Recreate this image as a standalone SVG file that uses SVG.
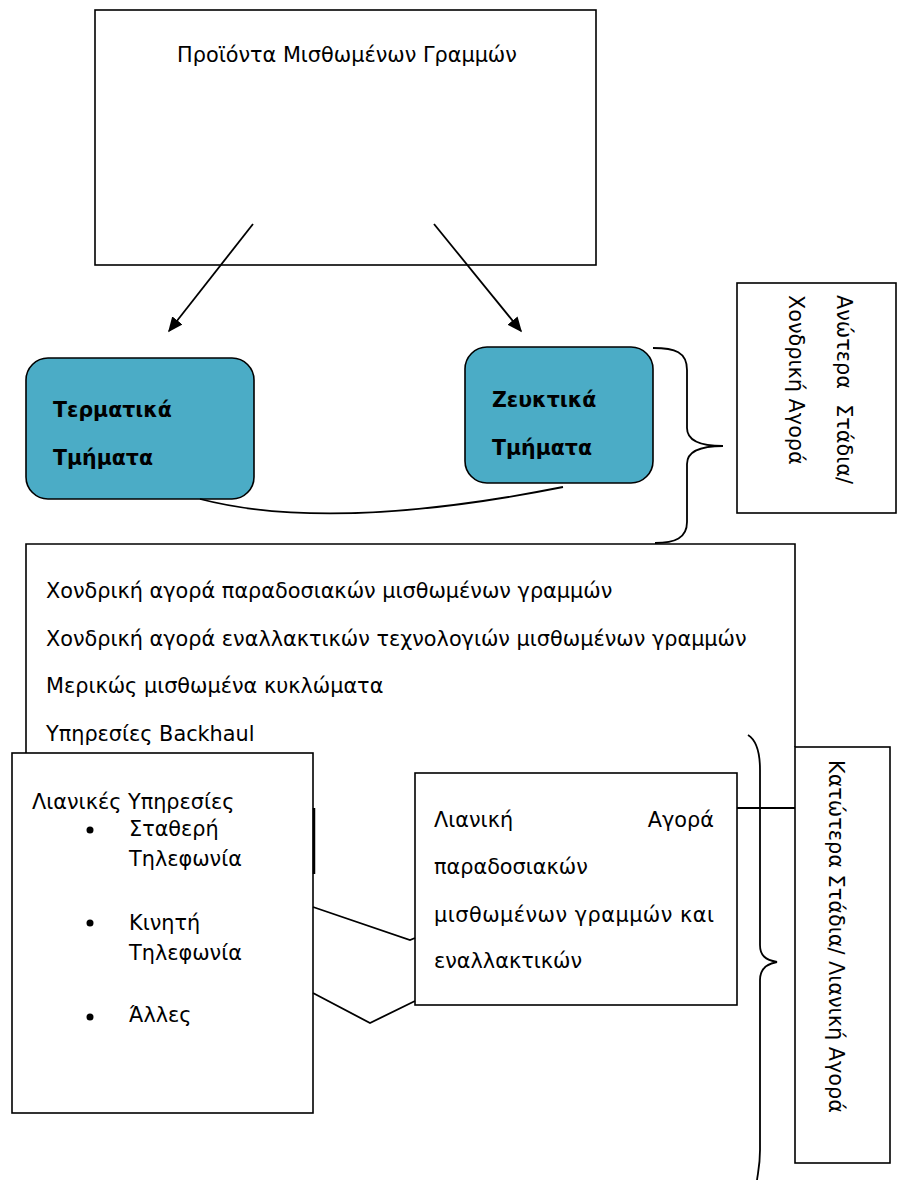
<svg xmlns="http://www.w3.org/2000/svg" width="897" height="1186" viewBox="0 0 897 1186">
<style>
.box{fill:#fff;stroke:#000;stroke-width:1.6}
.rbox{fill:#4BACC6;stroke:#000;stroke-width:1.6}
.t{font-family:"DejaVu Sans",Verdana,sans-serif;font-size:20.8px;fill:#000}
.b{font-family:"DejaVu Sans",Verdana,sans-serif;font-size:20.5px;font-weight:bold;fill:#000}
.ln{fill:none;stroke:#000;stroke-width:1.8}
</style>
<defs>
<marker id="ah" viewBox="0 0 10 10" refX="9" refY="5" markerWidth="15" markerHeight="13" markerUnits="userSpaceOnUse" orient="auto" preserveAspectRatio="none">
<path d="M0,0 L10,5 L0,10 z" fill="#000"/>
</marker>
</defs>
<rect width="897" height="1186" fill="#fff"/>
<g id="top">
<rect class="box" x="95" y="10" width="501" height="255"/>
<text class="t" x="347" y="62" text-anchor="middle">Προϊόντα Μισθωμένων Γραμμών</text>
</g>
<g id="termatika">
<rect class="rbox" x="26" y="358" width="228" height="141" rx="22"/>
<text class="b" x="53" y="417">Τερματικά</text>
<text class="b" x="53" y="465">Τμήματα</text>
</g>
<g id="zeuktika">
<rect class="rbox" x="465" y="347" width="188" height="136" rx="22"/>
<text class="b" x="492" y="407">Ζευκτικά</text>
<text class="b" x="492" y="455">Τμήματα</text>
</g>
<g id="anotera">
<rect class="box" x="737" y="283" width="159" height="230"/>
<text class="t" transform="translate(837,295) rotate(90)">Ανώτερα</text>
<text class="t" transform="translate(837,484) rotate(90)" text-anchor="end">Στάδια/</text>
<text class="t" transform="translate(789,295) rotate(90)">Χονδρική Αγορά</text>
</g>
<g id="xondriki">
<path class="box" style="fill:none" d="M26,753 V544 H795 V747"/>
<text class="t" x="46" y="598">Χονδρική αγορά παραδοσιακών μισθωμένων γραμμών</text>
<text class="t" x="46" y="646">Χονδρική αγορά εναλλακτικών τεχνολογιών μισθωμένων γραμμών</text>
<text class="t" x="46" y="693">Μερικώς μισθωμένα κυκλώματα</text>
<text class="t" x="46" y="741">Υπηρεσίες Backhaul</text>
</g>
<g id="lianikes">
<rect class="box" x="12" y="753" width="301" height="360"/>
<line x1="314" y1="808" x2="314" y2="874" stroke="#000" stroke-width="2.5"/>
<text class="t" x="32" y="809">Λιανικές Υπηρεσίες</text>
<circle cx="90" cy="830" r="3.5" fill="#000"/>
<circle cx="90" cy="923" r="3.5" fill="#000"/>
<circle cx="90" cy="1017" r="3.5" fill="#000"/>
<text class="t" x="129" y="836">Σταθερή</text>
<text class="t" x="129" y="866">Τηλεφωνία</text>
<text class="t" x="129" y="930">Κινητή</text>
<text class="t" x="129" y="960">Τηλεφωνία</text>
<text class="t" x="129" y="1022">Άλλες</text>
</g>
<g id="lianiki-agora">
<rect class="box" x="415" y="773" width="322" height="232"/>
<text class="t" x="434" y="827">Λιανική</text>
<text class="t" x="714" y="827" text-anchor="end">Αγορά</text>
<text class="t" x="434" y="874">παραδοσιακών</text>
<text class="t" x="434" y="922" textLength="280" lengthAdjust="spacing">μισθωμένων γραμμών και</text>
<text class="t" x="434" y="968">εναλλακτικών</text>
</g>
<g id="katotera">
<rect class="box" x="795" y="747" width="95" height="416"/>
<text class="t" transform="translate(829,760) rotate(90)">Κατώτερα Στάδια/ Λιανική Αγορά</text>
</g>
<g id="connectors">
<line class="ln" x1="253" y1="224" x2="169" y2="331" marker-end="url(#ah)"/>
<line class="ln" x1="434" y1="224" x2="521" y2="331" marker-end="url(#ah)"/>
<path class="ln" d="M200,499 Q332,533 563,487"/>
<path class="ln" d="M653,348 C675,348 687,352 687,370 L687,428 C687,440 700,446 723,446 C700,446 687,452 687,464 L687,522 C687,538 675,543 655,543"/>
<path class="ln" d="M748,735 C756,740 760,750 760,770 L760,945 C760,955 765,960 777,962 C765,964 760,970 760,980 L760,1150 C760,1165 758,1172 757,1180"/>
<path class="ln" d="M313,907 L410,940 L415,938"/>
<path class="ln" d="M313,993 L370,1023 L415,1001"/>
<line class="ln" x1="737" y1="808" x2="795" y2="808"/>
</g>
</svg>
